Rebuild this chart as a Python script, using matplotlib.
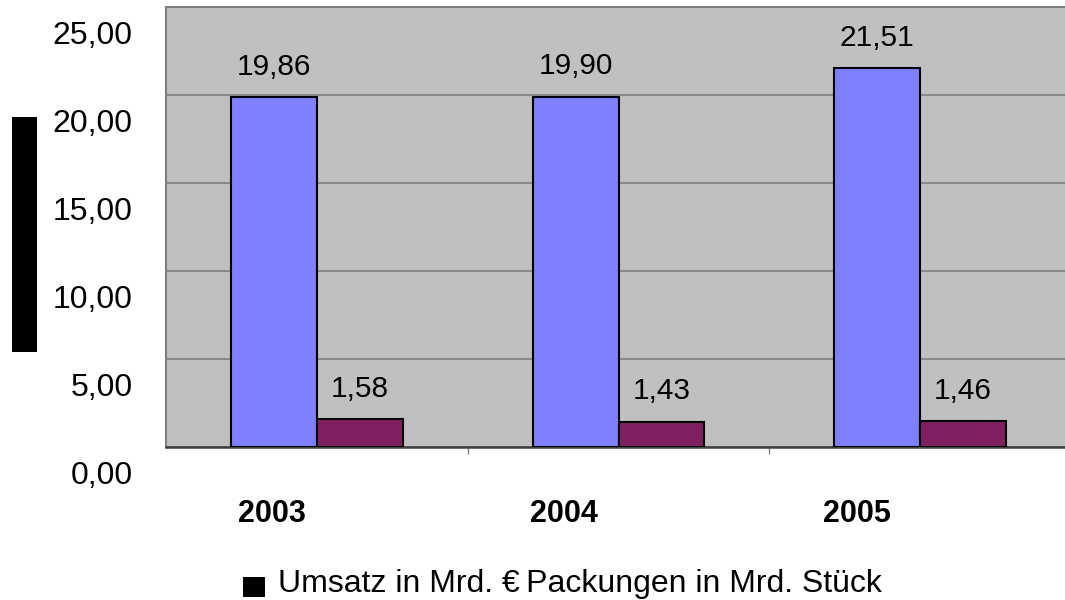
import matplotlib
matplotlib.use("Agg")
import matplotlib.pyplot as plt
from matplotlib.patches import Rectangle
from matplotlib.transforms import ScaledTranslation
import numpy as np

plt.rcParams['font.family'] = ['Liberation Sans', 'DejaVu Sans']

years = ['2003', '2004', '2005']
umsatz = [19.86, 19.90, 21.51]       # Umsatz in Mrd. €
packungen = [1.58, 1.43, 1.46]       # Packungen in Mrd. Stück
yticks = [0, 5, 10, 15, 20, 25]
ytick_labels = ['0,00', '5,00', '10,00', '15,00', '20,00', '25,00']
legend_text = 'Umsatz in Mrd. €\u2009Packungen in Mrd. Stück'

fig = plt.figure(figsize=(10.65, 6), dpi=100)
ax = fig.add_axes([166 / 1065, 1 - 447 / 600, 1 - 166 / 1065, 440 / 600])
ax.set_facecolor('#C0C0C0')

x = np.arange(len(years))
w = 0.285
b1 = ax.bar(x - w / 2, umsatz, w, color='#8080FF', edgecolor='black', linewidth=1.5, zorder=3)
b2 = ax.bar(x + w / 2, packungen, w, color='#802060', edgecolor='black', linewidth=1.5, zorder=3)

def fmt(v):
    return f'{v:.2f}'.replace('.', ',')

for bars, vals in ((b1, umsatz), (b2, packungen)):
    for r, v in zip(bars, vals):
        ax.annotate(fmt(v), (r.get_x() + r.get_width() / 2, v), xytext=(0, 22),
                    textcoords='offset points', ha='center', va='center', fontsize=21.5)

ax.set_xlim(-0.5, 2.48)
ax.set_ylim(0, 25)

# y axis: labels sit below their grid lines as in the original
ax.set_yticks(yticks)
ax.set_yticklabels(ytick_labels, fontsize=23)
ax.tick_params(axis='y', length=0, pad=24)
shift = ScaledTranslation(0, -25 / 100, fig.dpi_scale_trans)
for lab in ax.get_yticklabels():
    lab.set_transform(lab.get_transform() + shift)
ax.yaxis.grid(True, color='#808080', linewidth=1.2, zorder=1)
ax.set_axisbelow(True)

# x axis: separator ticks between groups, year labels offset to the left
ax.set_xticks([0.5, 1.5])
ax.set_xticklabels([])
ax.tick_params(axis='x', which='major', length=5, color='#808080', width=1)
ax.set_xticks(x * 0.97 - 0.15, minor=True)
ax.set_xticklabels(years, minor=True, fontsize=22, fontweight='bold')
ax.tick_params(axis='x', which='minor', length=0, pad=37.5)

for s in ('left', 'top'):
    ax.spines[s].set_color('#808080')
    ax.spines[s].set_linewidth(1.5)
ax.spines['bottom'].set_color('#404040')
ax.spines['bottom'].set_linewidth(1.8)
ax.spines['right'].set_visible(False)

# black block where the axis title was
fig.patches.append(Rectangle((12 / 1065, 1 - 352 / 600), 25 / 1065, 235 / 600,
                             transform=fig.transFigure, facecolor='black', edgecolor='none'))

# legend
fig.patches.append(Rectangle((243 / 1065, 1 - 597 / 600), 22 / 1065, 20 / 600,
                             transform=fig.transFigure, facecolor='black', edgecolor='none'))
fig.text(278 / 1065, 1 - 584 / 600, legend_text, fontsize=23, ha='left', va='center')

fig.savefig('out.png', dpi=100)
